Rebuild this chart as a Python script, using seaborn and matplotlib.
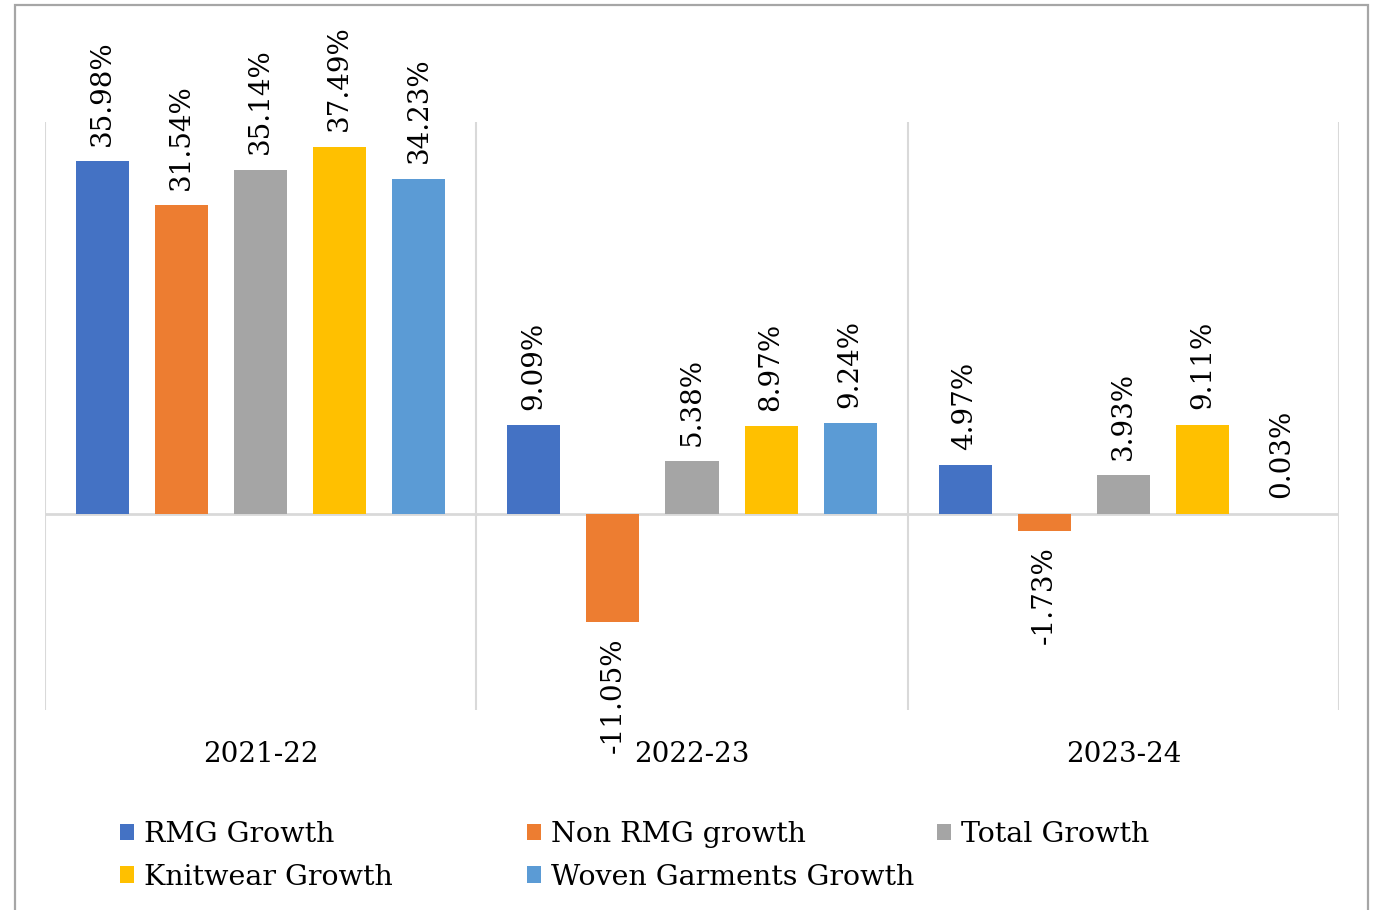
import matplotlib
matplotlib.use("Agg")
import matplotlib.pyplot as plt
from matplotlib.patches import Rectangle
import seaborn as sns
import pandas as pd

years = ["2021-22", "2022-23", "2023-24"]
series = ["RMG Growth", "Non RMG growth", "Total Growth",
          "Knitwear Growth", "Woven Garments Growth"]
rmg = [35.98, 9.09, 4.97]
non_rmg = [31.54, -11.05, -1.73]
total = [35.14, 5.38, 3.93]
knitwear = [37.49, 8.97, 9.11]
woven = [34.23, 9.24, 0.03]
colors = ["#4472C4", "#ED7D31", "#A5A5A5", "#FFC000", "#5B9BD5"]

values = [rmg, non_rmg, total, knitwear, woven]
df = pd.DataFrame(
    [(y, s, v) for s, vals in zip(series, values) for y, v in zip(years, vals)],
    columns=["year", "series", "growth"],
)

sns.set_theme(style="white")
plt.rcParams["font.family"] = ["DejaVu Serif"]
plt.rcParams["text.color"] = "black"
FS_LABEL = 20
FS_TICK = 20
FS_LEG = 20.5

fig = plt.figure(figsize=(13.78, 9.10), dpi=100)
ax = fig.add_axes([45 / 1378, 1 - 710 / 910, (1339 - 45) / 1378, (710 - 122) / 910])

sns.barplot(data=df, x="year", y="growth", hue="series", order=years,
            hue_order=series, palette=colors, width=0.917, gap=0.33,
            saturation=1, edgecolor="none", ax=ax)

handles, labels = ax.get_legend_handles_labels()
ax.get_legend().remove()

for cont, vals in zip(ax.containers, values):
    ax.bar_label(cont, labels=[f"{v:.2f}%" for v in vals], rotation=90,
                 padding=11, fontsize=FS_LABEL, color="black")

ax.set_ylim(-20, 40)
ax.set_xlim(-0.5, 2.5)
ax.axhline(0, color="#d9d9d9", lw=2, zorder=0)
for xv in [-0.5, 0.5, 1.5, 2.5]:
    ax.axvline(xv, color="#d9d9d9", lw=1.5, zorder=0)
for sp in ax.spines.values():
    sp.set_visible(False)
ax.set_yticks([])
ax.set_xlabel("")
ax.set_ylabel("")
ax.tick_params(axis="x", length=0, pad=22, labelsize=FS_TICK, colors="black")

# legend: three evenly spaced columns
col_x = [120, 527, 937]
col_items = [[0, 3], [1, 4], [2]]
for cx, idx in zip(col_x, col_items):
    fig.legend([handles[i] for i in idx], [labels[i] for i in idx],
               loc="upper left", bbox_to_anchor=(cx / 1378, 1 - 821 / 910),
               frameon=False, fontsize=FS_LEG, borderpad=0, borderaxespad=0,
               handlelength=0.5, handleheight=0.5, handletextpad=0.35,
               labelspacing=0.55, labelcolor="black")

fig.patches.append(Rectangle((15 / 1378, -0.02), (1368 - 15) / 1378, 0.02 + (910 - 5) / 910,
                             transform=fig.transFigure, fill=False,
                             edgecolor="#a6a6a6", lw=1.6))

fig.savefig("out.png", dpi=100, facecolor="white")
